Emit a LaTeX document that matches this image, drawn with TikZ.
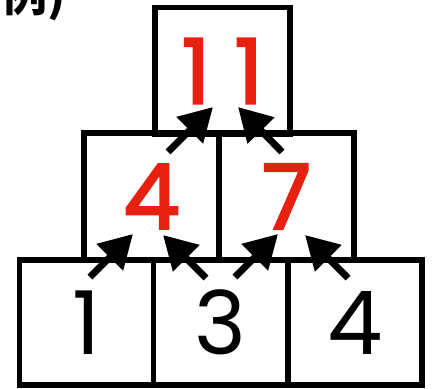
\documentclass[tikz,border=0pt]{standalone}
\usepackage{fontspec}
\usetikzlibrary{arrows.meta}
\newfontfamily\jpfont{Noto Sans CJK JP}
\newfontfamily\numfont{Poppins}
\newfontfamily\rednumfont[FakeBold=2.5]{Poppins}
\definecolor{numred}{RGB}{232,32,16}
\begin{document}
\begin{tikzpicture}[x=1pt,y=-1pt,
  cell/.style={draw=black, line width=5.5pt, minimum width=135pt, minimum height=127pt,
    inner sep=0pt, outer sep=0pt, font=\numfont\fontsize{88}{88}\selectfont},
  sumcell/.style={cell, text=numred, font=\rednumfont\fontsize{90}{90}\selectfont},
  push/.style={line width=7pt, -{Triangle[length=33pt,width=36pt]}}]
\clip (0,0) rectangle (438,388);
\useasboundingbox (0,0) rectangle (438,388);
\node[anchor=base west, inner sep=0pt, font=\jpfont\bfseries\fontsize{46}{46}\selectfont] (ex) at (1,11) {例)};
% bottom row
\node[cell, minimum width=134pt, minimum height=125pt] (b1) at (86.5,322.5) {1};
\node[cell, minimum width=134pt, minimum height=125pt] (b2) at (220.5,322.5) {3};
\node[cell, minimum width=134pt, minimum height=125pt] (b3) at (355,322.5) {4};
% middle row
\node[sumcell] (m1) at (151.5,196.5) {4};
\node[sumcell] (m2) at (286.5,196.5) {7};
% top
\node[sumcell] (t) at (222.5,71) {1\kern24pt 1};
% arrow ends
\coordinate (a1s) at (90,277);  \coordinate (a1e) at (133,234);
\coordinate (a2s) at (206,278); \coordinate (a2e) at (163,235);
\coordinate (a3s) at (235,277); \coordinate (a3e) at (278,234);
\coordinate (a4s) at (348,278); \coordinate (a4e) at (305,235);
\coordinate (a5s) at (168,152); \coordinate (a5e) at (213,107);
\coordinate (a6s) at (282,152); \coordinate (a6e) at (238,107);
\draw[push] (a1s) -- (a1e);
\draw[push] (a2s) -- (a2e);
\draw[push] (a3s) -- (a3e);
\draw[push] (a4s) -- (a4e);
\draw[push] (a5s) -- (a5e);
\draw[push] (a6s) -- (a6e);
\end{tikzpicture}
\end{document}
